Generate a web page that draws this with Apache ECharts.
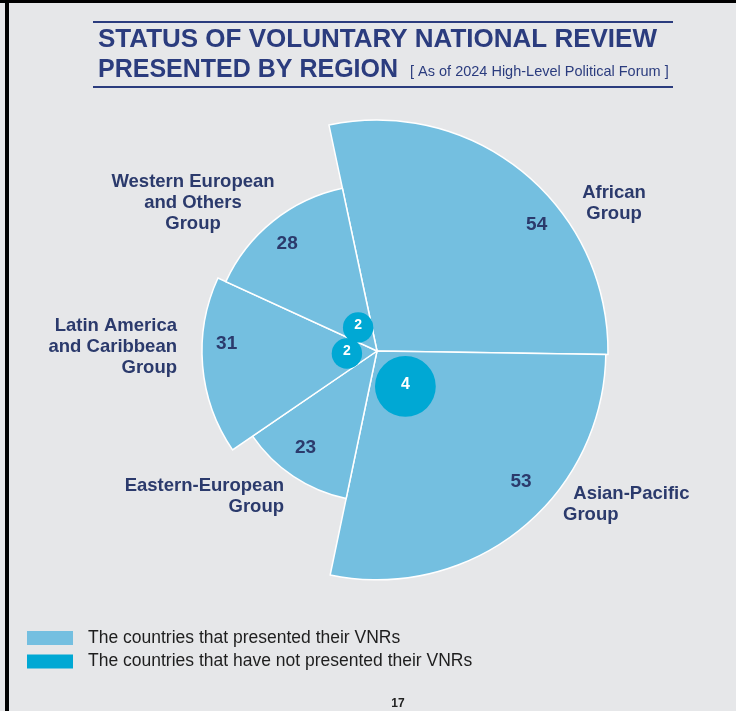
<!DOCTYPE html>
<html>
<head>
<meta charset="utf-8">
<script src="https://cdn.jsdelivr.net/npm/echarts@6/dist/echarts.min.js"></script>
<style>
  html, body { margin: 0; padding: 0; background: #e6e7e9; }
  #chart { width: 736px; height: 711px; }
</style>
</head>
<body>
<div id="chart"></div>
<script>
// data
const regions = ['African\nGroup', 'Asian-Pacific\nGroup', 'Eastern-European\nGroup', 'Latin America\nand Caribbean\nGroup', 'Western European\nand Others\nGroup'];
const presented = [54, 53, 23, 31, 28];
const notPresented = [0, 4, 0, 2, 2];
const legendNames = ['The countries that presented their VNRs', 'The countries that have not presented their VNRs'];

const lightBlue = '#74bfe0';
const darkBlue = '#00a8d4';
const navy = '#2b3a6c';
const titleBlue = '#2b3c7e';
const font = 'Liberation Sans, Arial, sans-serif';

const total = presented.reduce((a, b) => a + b, 0);
const maxVal = Math.max(...presented);

// where the number sits inside each slice: share of the slice's angle, share of its radius
const numberSpot = [[0.62, 0.88], [0.41, 0.85], [0.56, 0.8], [0.63, 0.86], [0.475, 0.84]];
// where each region name sits
const nameLayout = [
  { x: 614, y: 203, align: 'center', indent: '' },
  { x: 563, y: 504, align: 'left', indent: '  ' },
  { x: 284, y: 496, align: 'right', indent: '' },
  { x: 177, y: 347, align: 'right', indent: '' },
  { x: 193, y: 203, align: 'center', indent: '' }
];

// [sqrt(value), angle start, angle end, value] -> slice area goes with the value
let acc = 0;
const sectorData = presented.map(v => {
  const row = [Math.sqrt(v), acc, acc + v, v];
  acc += v;
  return row;
});
const bubbleData = notPresented.map((v, i) => [(sectorData[i][1] + sectorData[i][2]) / 2, v]);

function renderSector(params, api) {
  const cs = params.coordSys;
  const i = params.dataIndex;
  const rv = api.value(0);
  const a0 = api.value(1), a1 = api.value(2);
  const p0 = api.coord([rv, a0]);
  const p1 = api.coord([rv, a1]);
  const pm = api.coord([rv * numberSpot[i][1], a0 + (a1 - a0) * numberSpot[i][0]]);
  const r = Math.hypot(p0[0] - cs.cx, p0[1] - cs.cy);
  return {
    type: 'group',
    children: [{
      type: 'sector',
      shape: {
        cx: cs.cx, cy: cs.cy, r0: 0, r: r,
        startAngle: Math.atan2(p0[1] - cs.cy, p0[0] - cs.cx),
        endAngle: Math.atan2(p1[1] - cs.cy, p1[0] - cs.cx),
        clockwise: true
      },
      style: { fill: lightBlue, stroke: '#fff', lineWidth: 1.5 }
    }, {
      type: 'text',
      x: pm[0], y: pm[1],
      style: {
        text: String(api.value(3)), fill: navy,
        fontSize: 19, fontWeight: 'bold', fontFamily: font,
        align: 'center', verticalAlign: 'middle'
      }
    }]
  };
}

function renderBubble(params, api) {
  const n = api.value(1);
  if (!n) return null;
  const cs = params.coordSys;
  const p = api.coord([Math.sqrt(maxVal), api.value(0)]);
  const d = Math.hypot(p[0] - cs.cx, p[1] - cs.cy);
  const rb = 7.6 * n;
  const dist = rb + 15;
  const x = cs.cx + (p[0] - cs.cx) / d * dist;
  const y = cs.cy + (p[1] - cs.cy) / d * dist;
  return {
    type: 'group',
    children: [{
      type: 'circle',
      shape: { cx: x, cy: y, r: rb },
      style: { fill: darkBlue }
    }, {
      type: 'text',
      x: x, y: y - 2,
      style: {
        text: String(n), fill: '#fff',
        fontSize: n > 2 ? 16 : 14, fontWeight: 'bold', fontFamily: font,
        align: 'center', verticalAlign: 'middle'
      }
    }]
  };
}

const chart = echarts.init(document.getElementById('chart'));
chart.setOption({
  backgroundColor: '#e6e7e9',
  title: {
    text: 'STATUS OF VOLUNTARY NATIONAL REVIEW',
    subtext: 'PRESENTED BY REGION',
    left: 98,
    top: 25,
    padding: 0,
    itemGap: 0,
    textStyle: { color: titleBlue, fontSize: 26, fontWeight: 'bold', fontFamily: font, lineHeight: 30 },
    subtextStyle: { color: titleBlue, fontSize: 25, fontWeight: 'bold', fontFamily: font, lineHeight: 30 }
  },
  legend: {
    orient: 'vertical',
    left: 27,
    top: 624,
    padding: 0,
    icon: 'rect',
    itemWidth: 46,
    itemHeight: 14,
    itemGap: -4.5,
    data: legendNames,
    textStyle: { color: '#1e1e1e', fontSize: 17.5, lineHeight: 18, fontFamily: font, padding: [0, 0, 10, 10] }
  },
  polar: { center: [377, 351], radius: 231 },
  angleAxis: { type: 'value', min: 0, max: total, startAngle: 102, clockwise: true, show: false },
  radiusAxis: { type: 'value', min: 0, max: Math.sqrt(maxVal), show: false },
  series: [{
    name: legendNames[0],
    type: 'custom',
    coordinateSystem: 'polar',
    itemStyle: { color: lightBlue },
    encode: { radius: 0, angle: [1, 2] },
    renderItem: renderSector,
    data: sectorData,
    silent: true
  }, {
    name: legendNames[1],
    type: 'custom',
    coordinateSystem: 'polar',
    itemStyle: { color: darkBlue },
    encode: { angle: 0 },
    renderItem: renderBubble,
    data: bubbleData,
    z: 5,
    silent: true
  }],
  graphic: [
    { type: 'rect', shape: { x: 0, y: 0, width: 736, height: 3 }, style: { fill: '#000' } },
    { type: 'rect', shape: { x: 5, y: 0, width: 4, height: 711 }, style: { fill: '#000' } },
    { type: 'rect', shape: { x: 93, y: 21, width: 580, height: 2 }, style: { fill: titleBlue } },
    { type: 'rect', shape: { x: 93, y: 86, width: 580, height: 2 }, style: { fill: titleBlue } },
    {
      type: 'text', x: 410, y: 72,
      style: { text: '[ As of 2024 High-Level Political Forum ]', fill: titleBlue, fontSize: 14.5, fontFamily: font, verticalAlign: 'middle' }
    },
    {
      type: 'text', x: 398, y: 704,
      style: { text: '17', fill: '#222', fontSize: 12, fontWeight: 'bold', fontFamily: font, align: 'center', verticalAlign: 'middle' }
    }
  ].concat(regions.map((name, i) => ({
    type: 'text',
    x: nameLayout[i].x,
    y: nameLayout[i].y,
    style: {
      text: nameLayout[i].indent + name, fill: navy,
      fontSize: 18.5, fontWeight: 'bold', fontFamily: font,
      lineHeight: 21,
      align: nameLayout[i].align, verticalAlign: 'middle'
    }
  })))
});
</script>
</body>
</html>
